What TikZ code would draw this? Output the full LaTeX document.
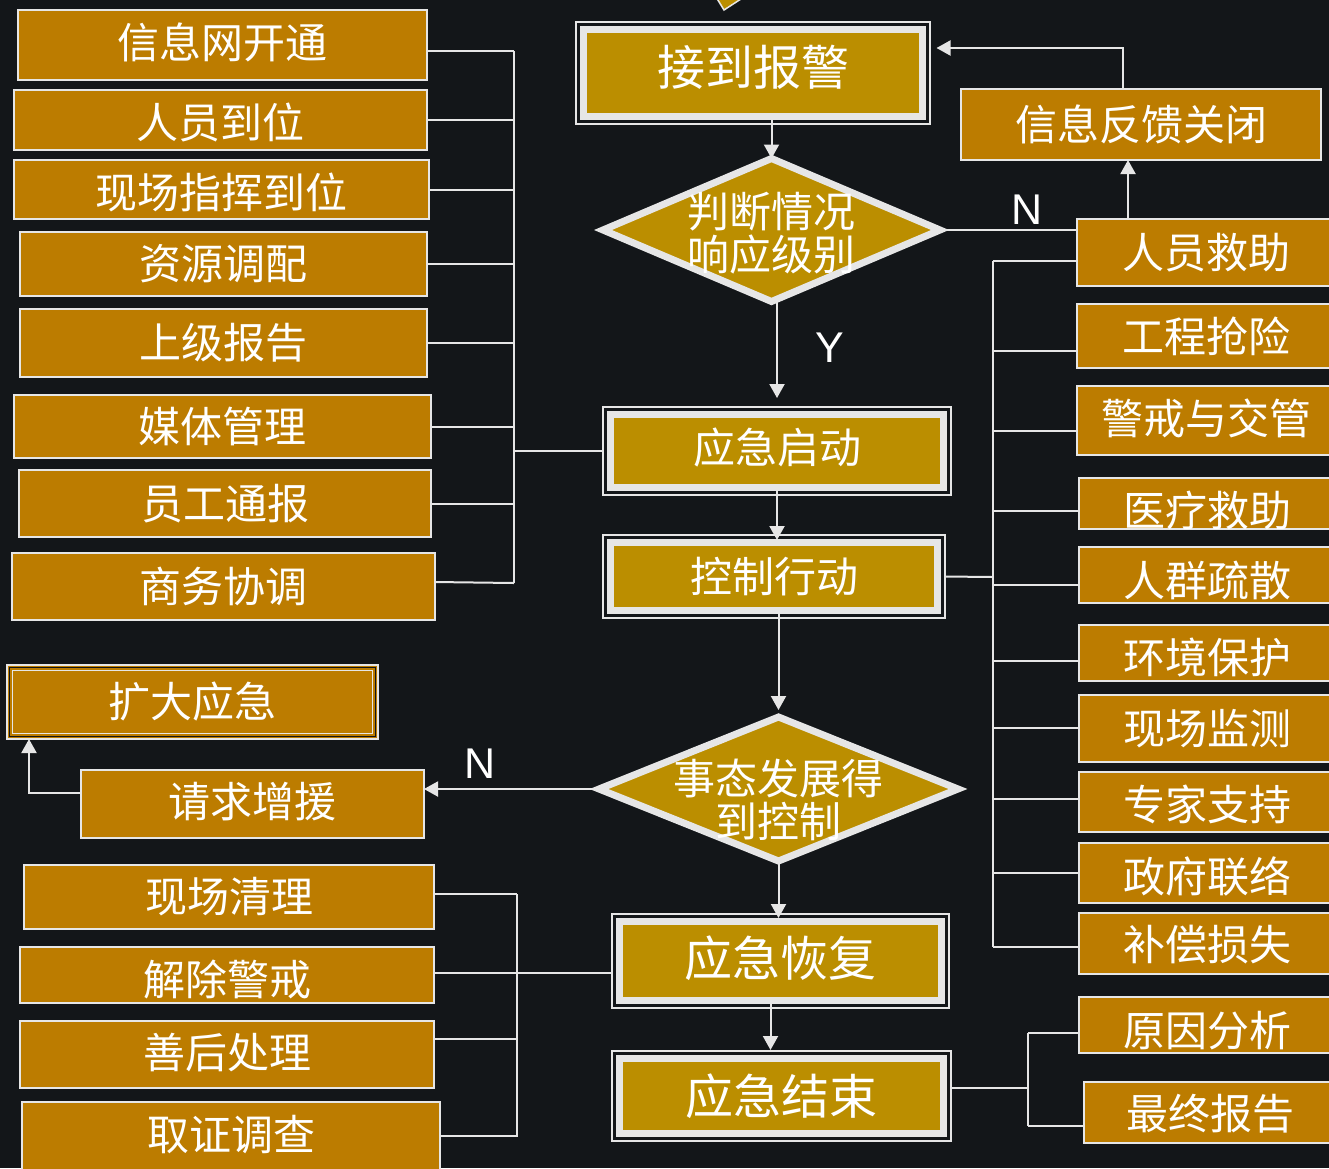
\documentclass[tikz,border=0pt]{standalone}
\usepackage{fontspec}
\setmainfont{Noto Sans CJK SC}
\newfontfamily\latinfont{Liberation Sans}
\usetikzlibrary{shapes.geometric,arrows.meta}
\definecolor{bg}{RGB}{19,22,25}
\definecolor{ora}{RGB}{188,124,0}
\definecolor{gld}{RGB}{187,142,0}
\definecolor{lgt}{RGB}{230,230,230}
\begin{document}
\begin{tikzpicture}[x=1pt,y=-1pt,
  every node/.style={outer sep=0pt, inner sep=0pt},
  txt/.style={text=white, font=\fontsize{42}{43.5}\selectfont, align=center},
  txtbig/.style={text=white, font=\fontsize{48}{50}\selectfont},
  yn/.style={text=white, font=\latinfont\fontsize{43}{45}\selectfont},
  obox/.style={draw=lgt, line width=1.5pt, fill=ora},
  cbox/.style={draw=lgt, line width=7pt, fill=gld},
  frame/.style={draw=lgt, line width=1.5pt},
  dia/.style={diamond, draw=lgt, line width=7pt, fill=gld},
  conn/.style={draw=lgt, line width=2pt},
  arr/.style={conn, -{Triangle[width=15pt,length=14pt]}},
]
\useasboundingbox (0,0) rectangle (1329,1168);
\fill[bg] (0,0) rectangle (1329,1168);
\clip (0,0) rectangle (1329,1168);

% partial shape at top
\filldraw[fill=gld, draw=lgt, line width=1.5pt] (716,-3) -- (724,10) -- (744,-3) -- cycle;

% ---------- left column ----------
\node[obox, minimum width=409pt, minimum height=70pt, label={[txt,yshift=2.5pt]center:信息网开通}] (L1) at (222.5,45) {};
\node[obox, minimum width=413pt, minimum height=60pt, label={[txt,yshift=-2pt]center:人员到位}] (L2) at (220.5,120) {};
\node[obox, minimum width=415pt, minimum height=59pt, label={[txt,yshift=-2.5pt]center:现场指挥到位}] (L3) at (221.5,189.5) {};
\node[obox, minimum width=407pt, minimum height=64pt, label={[txt]center:资源调配}] (L4) at (223.5,264) {};
\node[obox, minimum width=407pt, minimum height=68pt, label={[txt]center:上级报告}] (L5) at (223.5,343) {};
\node[obox, minimum width=417pt, minimum height=63pt, label={[txt]center:媒体管理}] (L6) at (222.5,426.5) {};
\node[obox, minimum width=412pt, minimum height=67pt, label={[txt]center:员工通报}] (L7) at (225,503.5) {};
\node[obox, minimum width=423pt, minimum height=67pt, label={[txt]center:商务协调}] (L8) at (223.5,586.5) {};

% ---------- center column ----------
\node[cbox, minimum width=339pt, minimum height=87pt, label={[txtbig,yshift=5.5pt]center:接到报警}] (alarm) at (753,73) {};
\node[dia, minimum width=337pt, minimum height=143pt, label={[txt,yshift=-3pt]center:判断情况\\响应级别}] (d1) at (771.5,230) {};
\node[cbox, minimum width=333pt, minimum height=73pt, label={[txt,yshift=3pt]center:应急启动}] (start) at (777,451) {};
\node[cbox, minimum width=327pt, minimum height=68pt, label={[txt]center:控制行动}] (ctrl) at (774,576.5) {};
\node[dia, minimum width=359pt, minimum height=144pt, label={[txt,yshift=-11pt]center:事态发展得\\到控制}] (d2) at (778.5,789) {};
\node[cbox, minimum width=322pt, minimum height=79pt, label={[txtbig,yshift=3pt]center:应急恢复}] (recov) at (780.5,961) {};
\node[cbox, minimum width=324pt, minimum height=75pt, label={[txtbig]center:应急结束}] (endn) at (781.5,1096) {};
\foreach \n in {alarm,start,ctrl,recov,endn}
  \draw[frame] ([xshift=-7.5pt,yshift=7.5pt]\n.north west) rectangle ([xshift=7.5pt,yshift=-7.5pt]\n.south east);

% ---------- escalation ----------
\node[obox, minimum width=371pt, minimum height=74pt, label={[txt]center:扩大应急}] (KD) at (192.5,702) {};
\draw[draw=bg, line width=1.5pt] ([xshift=2.5pt,yshift=-2.5pt]KD.north west) rectangle ([xshift=-2.5pt,yshift=2.5pt]KD.south east);
\draw[frame] ([xshift=5.5pt,yshift=-5.5pt]KD.north west) rectangle ([xshift=-5.5pt,yshift=5.5pt]KD.south east);
\node[obox, minimum width=343pt, minimum height=68pt, label={[txt,yshift=2pt]center:请求增援}] (QZ) at (252.5,804) {};

% ---------- bottom-left column ----------
\node[obox, minimum width=410pt, minimum height=64pt, label={[txt]center:现场清理}] (B1) at (229,897) {};
\node[obox, minimum width=414pt, minimum height=56pt, label={[txt,yshift=-4pt]center:解除警戒}] (B2) at (227,975) {};
\node[obox, minimum width=414pt, minimum height=67pt, label={[txt,yshift=1.5pt]center:善后处理}] (B3) at (227,1054.5) {};
\node[obox, minimum width=418pt, minimum height=70pt, label={[txt,yshift=2pt]center:取证调查}] (B4) at (231,1137) {};

% ---------- right column ----------
\node[obox, minimum width=360pt, minimum height=71pt, label={[txt]center:信息反馈关闭}] (FB) at (1141,124.5) {};
\node[obox, minimum width=258pt, minimum height=67pt, label={[txt]center:人员救助}] (R1) at (1206,252.5) {};
\node[obox, minimum width=258pt, minimum height=64pt, label={[txt]center:工程抢险}] (R2) at (1206,336) {};
\node[obox, minimum width=258pt, minimum height=69pt, label={[txt,yshift=2.5pt]center:警戒与交管}] (R3) at (1206,420.5) {};
\node[obox, minimum width=256pt, minimum height=51pt, label={[txt,yshift=-6.5pt]center:医疗救助}] (R4) at (1207,503.5) {};
\node[obox, minimum width=256pt, minimum height=56pt, label={[txt,yshift=-5pt]center:人群疏散}] (R5) at (1207,575) {};
\node[obox, minimum width=256pt, minimum height=56pt, label={[txt,yshift=-4pt]center:环境保护}] (R6) at (1207,653) {};
\node[obox, minimum width=256pt, minimum height=67pt, label={[txt]center:现场监测}] (R7) at (1207,728.5) {};
\node[obox, minimum width=256pt, minimum height=60pt, label={[txt,yshift=-2pt]center:专家支持}] (R8) at (1207,802) {};
\node[obox, minimum width=256pt, minimum height=60pt, label={[txt,yshift=-3pt]center:政府联络}] (R9) at (1207,873) {};
\node[obox, minimum width=256pt, minimum height=61pt, label={[txt,yshift=-1.5pt]center:补偿损失}] (R10) at (1207,943.5) {};
\node[obox, minimum width=256pt, minimum height=56pt, label={[txt,yshift=-6pt]center:原因分析}] (R11) at (1207,1025) {};
\node[obox, minimum width=252pt, minimum height=61pt, label={[txt,yshift=-1.5pt]center:最终报告}] (R12) at (1210,1112.5) {};

% ---------- labels ----------
\node[yn] (nN1) at (1027,210) {N};
\node[yn] (yY) at (830,348) {Y};
\node[yn] (nN2) at (480,764) {N};

% ---------- left bus ----------
\coordinate (lbT) at (514,51);
\coordinate (lbB) at (514,583);
\coordinate (lbus) at (514,451);
\draw[conn] (lbT) -- (lbB);
\draw[conn] ([yshift=-6pt]L1.east) -- (lbT);
\foreach \n in {L2,L3,L4,L5,L6,L7}
  \draw[conn] (\n.east) -- (\n.east -| lbus);
\draw[conn] ([yshift=4.5pt]L8.east) -- (lbB);
\draw[conn] (lbus) -- ([xshift=-7.5pt]start.west);

% ---------- center flow ----------
\draw[arr] (alarm.south -| d1.north) -- (d1.north);
\draw[arr] (d1.south -| start.north) -- ([yshift=16.5pt]start.north);
\draw[arr] (start.south) -- ([yshift=2.5pt]start.south |- ctrl.north);
\draw[arr] (ctrl.south -| d2.north) -- ([yshift=7pt]d2.north);
\draw[arr] (d2.south) -- ([yshift=3.5pt]d2.south |- recov.north);
\draw[arr] ([xshift=-10pt]recov.south) -- ([xshift=-10pt,yshift=8.5pt]recov.south |- endn.north);

% ---------- escalation flow ----------
\draw[arr] (d2.west) -- (d2.west -| QZ.east);
\draw[arr] ([yshift=11pt]QZ.west) -| ([xshift=-163.5pt]KD.south);

% ---------- right bus ----------
\coordinate (rbT) at (993,261);
\coordinate (rbB) at (993,947);
\coordinate (rbus) at (993,577);
\draw[conn] (rbT) -- (rbB);
\draw[conn] ([xshift=7.5pt]ctrl.east) -- (rbus);
\foreach \n/\y in {R1/261,R2/351,R3/431,R4/511,R5/585,R6/661,R7/728,R8/799,R9/873,R10/947}
  \draw[conn] (\n.west |- 0,\y) -- (rbus |- 0,\y);
\draw[conn] (d1.east) -- (d1.east -| R1.west);
\draw[arr] ([xshift=-78pt]R1.north) -- ([xshift=-78pt]R1.north |- FB.south);
\draw[arr] ([xshift=-18pt]FB.north) |- ([xshift=14pt,yshift=25pt]alarm.east);

% ---------- bottom-left bus ----------
\coordinate (bbT) at (517,894);
\coordinate (bbB) at (517,1137);
\coordinate (bbus) at (517,973);
\draw[conn] (bbT) -- (bbB);
\draw[conn] ([yshift=3pt]B1.east) -- (bbT);
\draw[conn] (B2.east |- bbus) -- (bbus);
\draw[conn] (B3.east |- 0,1039) -- (bbus |- 0,1039);
\draw[conn] (B4.east |- 0,1136) -- (bbus |- 0,1136);
\draw[conn] (bbus) -- ([xshift=-7.5pt]recov.west |- bbus);

% ---------- end bus ----------
\coordinate (ebus) at (1028,1088);
\coordinate (ebT) at (1028,1033);
\coordinate (ebB) at (1028,1126);
\draw[conn] ([xshift=7.5pt]endn.east |- ebus) -- (ebus);
\draw[conn] (ebT) -- (ebB);
\draw[conn] (ebT) -- (R11.west |- ebT);
\draw[conn] (ebB) -- (R12.west |- ebB);
\end{tikzpicture}
\end{document}
